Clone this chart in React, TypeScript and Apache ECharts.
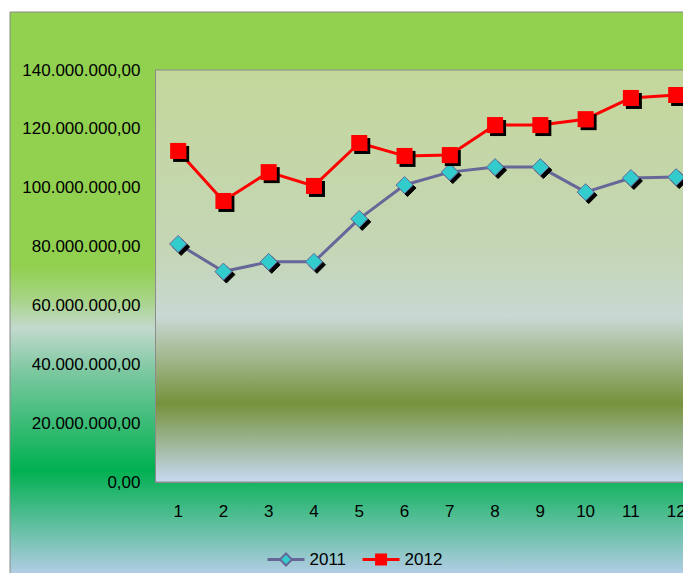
import React, { useEffect, useRef } from "react";
import * as echarts from "echarts";

const categories = ["1", "2", "3", "4", "5", "6", "7", "8", "9", "10", "11", "12"];
const series2011 = [80900000, 71500000, 74800000, 74800000, 89400000, 100900000, 105300000, 107000000, 107000000, 98500000, 103300000, 103600000];
const series2012 = [112500000, 95500000, 105300000, 100600000, 115200000, 110800000, 111100000, 121300000, 121300000, 123300000, 130500000, 131500000];
const yTicks = { min: 0, max: 140000000, interval: 20000000 };

function fmt(v: number): string {
  const s = Math.round(v).toString().replace(/\B(?=(\d{3})+(?!\d))/g, ".");
  return s + ",00";
}

export default function App() {
  const ref = useRef<HTMLDivElement>(null);
  useEffect(() => {
    if (!ref.current) return;
    const chart = echarts.init(ref.current, null, { renderer: "svg" });
    const font = "Liberation Sans";
    const shadow = { shadowColor: "#000", shadowOffsetX: 3, shadowOffsetY: 3, shadowBlur: 0 };
    chart.setOption({
      animation: false,
      graphic: [
        {
          type: "rect",
          z: -100,
          silent: true,
          shape: { x: 10, y: 12, width: 720, height: 580 },
          style: {
            stroke: "#8a8a8a",
            lineWidth: 1,
            fill: new echarts.graphic.LinearGradient(0, 0, 0, 1, [
              { offset: 0, color: "#92D050" },
              { offset: 0.44, color: "#92D050" },
              { offset: 0.497, color: "#A8D488" },
              { offset: 0.545, color: "#C3D9CE" },
              { offset: 0.62, color: "#7CC8A0" },
              { offset: 0.79, color: "#00B050" },
              { offset: 0.97, color: "#B4CDE6" },
              { offset: 1, color: "#B8D0EC" },
            ]),
          },
        },
      ],
      legend: {
        left: 261,
        top: 546,
        itemWidth: 37,
        itemHeight: 15,
        itemGap: 15,
        lineStyle: { width: 3 },
        itemStyle: { shadowBlur: 0, shadowOffsetX: 0, shadowOffsetY: 0, shadowColor: "transparent" },
        textStyle: { fontFamily: font, fontSize: 17, color: "#000" },
        data: ["2011", "2012"],
      },
      grid: {
        left: 155.5,
        top: 70,
        width: 543.3,
        height: 412,
        show: true,
        borderColor: "#8c8c8c",
        borderWidth: 1,
        backgroundColor: new echarts.graphic.LinearGradient(0, 0, 0, 1, [
          { offset: 0, color: "#C4D79B" },
          { offset: 0.45, color: "#C4D6B6" },
          { offset: 0.6, color: "#C8D8D4" },
          { offset: 0.81, color: "#76923C" },
          { offset: 1, color: "#C6D9F1" },
        ]),
      },
      xAxis: {
        type: "category",
        data: categories,
        boundaryGap: true,
        axisLine: { show: true, lineStyle: { color: "#8c8c8c" } },
        axisTick: { show: false },
        axisLabel: { margin: 21, fontFamily: font, fontSize: 17, color: "#000" },
        splitLine: { show: false },
      },
      yAxis: {
        type: "value",
        min: yTicks.min,
        max: yTicks.max,
        interval: yTicks.interval,
        axisLine: { show: true, lineStyle: { color: "#8c8c8c" } },
        axisTick: { show: false },
        splitLine: { show: false },
        axisLabel: { margin: 15, fontFamily: font, fontSize: 17, color: "#000", formatter: (v: number) => fmt(v) },
      },
      series: [
        {
          name: "2011",
          type: "line",
          data: series2011,
          symbol: "diamond",
          symbolSize: 17,
          lineStyle: { color: "#666699", width: 3 },
          itemStyle: { color: "#33CCCC", borderColor: "#666699", borderWidth: 1, ...shadow },
        },
        {
          name: "2012",
          type: "line",
          data: series2012,
          symbol: "rect",
          symbolSize: 16,
          lineStyle: { color: "#FF0000", width: 3 },
          itemStyle: { color: "#FF0000", borderColor: "#FF0000", borderWidth: 0, ...shadow },
        },
      ],
    });
    return () => chart.dispose();
  }, []);
  return (
    <div style={{ position: "fixed", left: 0, top: 0, width: 683, height: 573, overflow: "hidden", background: "#fff" }}>
      <div ref={ref} style={{ width: 730, height: 600 }} />
    </div>
  );
}
